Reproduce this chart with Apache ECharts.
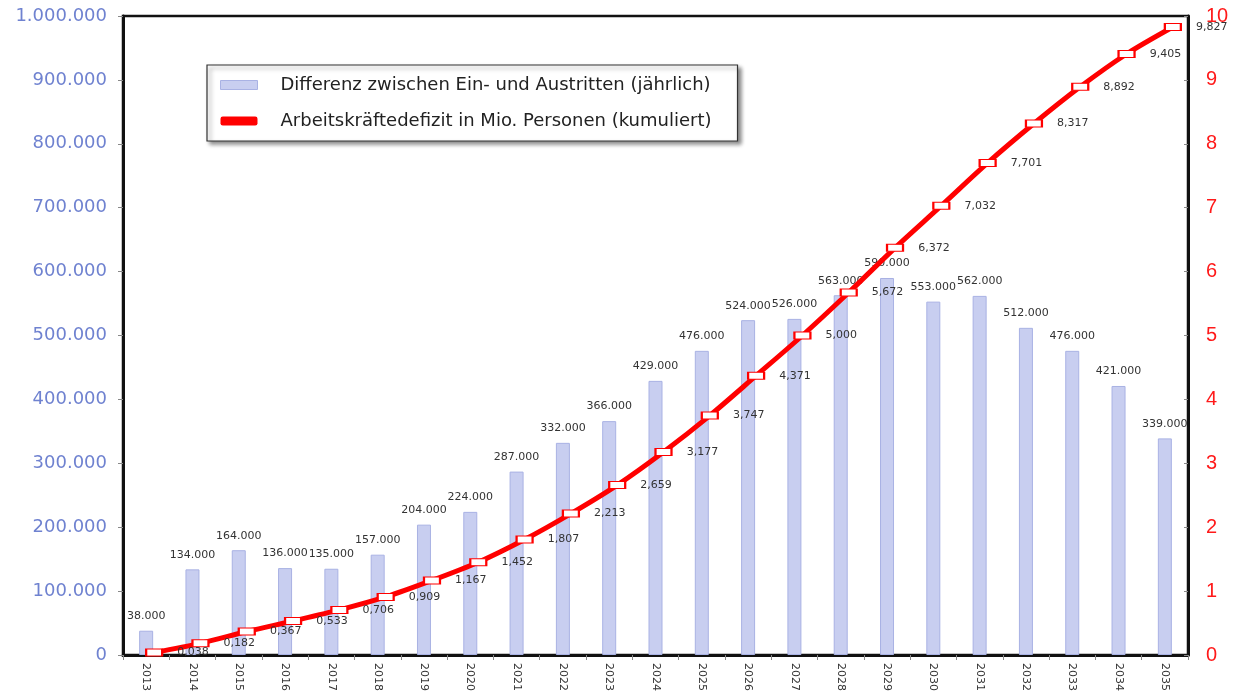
<!DOCTYPE html>
<html><head><meta charset="utf-8">
<script src="https://cdn.jsdelivr.net/npm/echarts@6/dist/echarts.min.js"></script>
<style>html,body{margin:0;padding:0;background:#fff}#c{width:1241px;height:695px}</style>
</head><body><div id="c"></div>
<script>
const years = ['2013','2014','2015','2016','2017','2018','2019','2020','2021','2022','2023','2024','2025','2026','2027','2028','2029','2030','2031','2032','2033','2034','2035'];
const diffYearly = [38000,134000,164000,136000,135000,157000,204000,224000,287000,332000,366000,429000,476000,524000,526000,563000,590000,553000,562000,512000,476000,421000,339000];
const deficitCum = [0.038,0.182,0.367,0.533,0.706,0.909,1.167,1.452,1.807,2.213,2.659,3.177,3.747,4.371,5.000,5.672,6.372,7.032,7.701,8.317,8.892,9.405,9.827];
const barName = 'Differenz zwischen Ein- und Austritten (jährlich)';
const lineName = 'Arbeitskräftedefizit in Mio. Personen (kumuliert)';

function dotThousands(v){ return String(Math.round(v)).replace(/\B(?=(\d{3})+(?!\d))/g,'.'); }
function commaDec(v){ return v.toFixed(3).replace('.', ','); }

const FONT = 'DejaVu Sans';
const chart = echarts.init(document.getElementById('c'));
chart.setOption({
  animation:false,
  textStyle:{fontFamily:FONT},
  grid:[
    {left:123,right:53,top:16,bottom:40,show:true,borderColor:'#111',borderWidth:2.5,backgroundColor:'transparent'},
    {left:131,right:45,top:16,bottom:40,show:false}
  ],
  legend:{
    orient:'vertical',left:207,top:65,
    padding:[11,26,11,13],itemGap:18,
    itemWidth:37,itemHeight:9,
    backgroundColor:'#fff',borderColor:'#333',borderWidth:1.2,
    shadowBlur:4,shadowColor:'rgba(0,0,0,0.45)',shadowOffsetX:3,shadowOffsetY:3,
    textStyle:{fontFamily:FONT,fontSize:18,color:'#222',padding:[0,0,0,18]},
    data:[
      {name:barName,icon:'rect',itemStyle:{color:'#c8cef0',borderColor:'#a9b2e4',borderWidth:1}},
      {name:lineName,icon:'roundRect',itemStyle:{color:'#ff0000',borderWidth:0}}
    ]
  },
  xAxis:[
    {type:'category',gridIndex:0,data:years,boundaryGap:true,
     axisLine:{lineStyle:{color:'#111',width:3}},
     axisTick:{show:true,interval:0,length:5,lineStyle:{color:'#888'}},
     axisLabel:{rotate:-90,interval:0,fontSize:11,color:'#333',margin:8,fontFamily:FONT}},
    {type:'category',gridIndex:1,data:years,boundaryGap:true,show:false}
  ],
  yAxis:[
    {type:'value',gridIndex:0,min:0,max:1000000,interval:100000,position:'left',
     axisLine:{show:true,lineStyle:{color:'#111',width:3}},
     axisTick:{show:true,length:5,lineStyle:{color:'#888'}},
     splitLine:{show:false},
     axisLabel:{fontSize:18,color:'#6f82d0',margin:16,fontFamily:FONT,formatter:v=>dotThousands(v)}},
    {type:'value',gridIndex:0,min:0,max:10,interval:1,position:'right',
     axisLine:{show:true,lineStyle:{color:'#111',width:3}},
     axisTick:{show:true,inside:true,length:4,lineStyle:{color:'#888'}},
     splitLine:{show:false},
     axisLabel:{fontSize:20,color:'#ff1a1a',margin:18,fontFamily:'Liberation Sans'}},
    {type:'value',gridIndex:1,min:0,max:10,show:false,splitLine:{show:false}}
  ],
  series:[
    {name:barName,type:'bar',xAxisIndex:0,yAxisIndex:0,data:diffYearly,barWidth:14,
     itemStyle:{color:'#c8cef0',borderColor:'#a9b2e4',borderWidth:1},
     label:{show:true,position:'top',distance:9,fontSize:11,color:'#333',fontFamily:FONT,formatter:p=>dotThousands(p.value)},
     z:2},
    {name:lineName,type:'line',xAxisIndex:1,yAxisIndex:2,data:deficitCum,smooth:0.3,
     lineStyle:{color:'#ff0000',width:5},
     itemStyle:{color:'#ffffff',borderColor:'#ff0000',borderWidth:1.5},
     symbol:'rect',symbolSize:[16,7],showAllSymbol:true,
     label:{show:true,position:'right',distance:14,fontSize:11,color:'#333',fontFamily:FONT,formatter:p=>commaDec(p.value)},
     z:5}
  ]
});
</script></body></html>
